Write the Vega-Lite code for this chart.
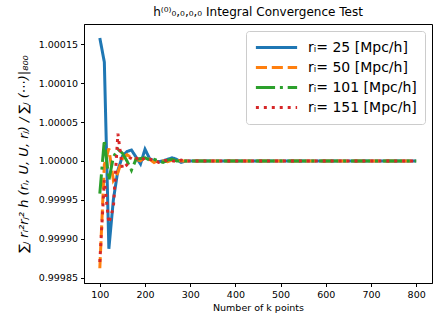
{
  "$schema": "https://vega.github.io/schema/vega-lite/v6.json",
  "width": 348,
  "height": 259,
  "autosize": "none",
  "padding": {"left": 84, "top": 24, "right": 7, "bottom": 38},
  "title": {"text": "h⁽⁰⁾₀,₀,₀,₀ Integral Convergence Test", "fontSize": 12, "fontWeight": "normal", "font": "DejaVu Sans", "color": "black", "offset": 5},
  "config": {
    "font": "DejaVu Sans",
    "view": {"stroke": "black", "strokeWidth": 1},
    "axis": {"domainColor": "black", "tickColor": "black", "labelColor": "black", "titleColor": "black", "grid": false, "tickSize": 3.5, "labelFontSize": 9.5, "titleFontWeight": "normal", "labelPadding": 3}
  },
  "datasets": {
    "d": [
      {"r": "r\u1d62= 25 [Mpc/h]", "k": 100, "v": 1.000158},
      {"r": "r\u1d62= 25 [Mpc/h]", "k": 110, "v": 1.000127},
      {"r": "r\u1d62= 25 [Mpc/h]", "k": 120, "v": 0.999887},
      {"r": "r\u1d62= 25 [Mpc/h]", "k": 130, "v": 0.99995},
      {"r": "r\u1d62= 25 [Mpc/h]", "k": 140, "v": 0.999988},
      {"r": "r\u1d62= 25 [Mpc/h]", "k": 150, "v": 1.000006},
      {"r": "r\u1d62= 25 [Mpc/h]", "k": 160, "v": 1.000012},
      {"r": "r\u1d62= 25 [Mpc/h]", "k": 170, "v": 1.000014},
      {"r": "r\u1d62= 25 [Mpc/h]", "k": 180, "v": 1.000005},
      {"r": "r\u1d62= 25 [Mpc/h]", "k": 190, "v": 0.999996},
      {"r": "r\u1d62= 25 [Mpc/h]", "k": 200, "v": 1.000015},
      {"r": "r\u1d62= 25 [Mpc/h]", "k": 210, "v": 1.000003},
      {"r": "r\u1d62= 25 [Mpc/h]", "k": 220, "v": 1.0},
      {"r": "r\u1d62= 25 [Mpc/h]", "k": 230, "v": 0.999999},
      {"r": "r\u1d62= 25 [Mpc/h]", "k": 240, "v": 1.0},
      {"r": "r\u1d62= 25 [Mpc/h]", "k": 250, "v": 1.000002},
      {"r": "r\u1d62= 25 [Mpc/h]", "k": 260, "v": 1.000004},
      {"r": "r\u1d62= 25 [Mpc/h]", "k": 270, "v": 1.000002},
      {"r": "r\u1d62= 25 [Mpc/h]", "k": 280, "v": 0.999998},
      {"r": "r\u1d62= 25 [Mpc/h]", "k": 290, "v": 1.0},
      {"r": "r\u1d62= 25 [Mpc/h]", "k": 300, "v": 1.0},
      {"r": "r\u1d62= 25 [Mpc/h]", "k": 350, "v": 1.0},
      {"r": "r\u1d62= 25 [Mpc/h]", "k": 400, "v": 1.0},
      {"r": "r\u1d62= 25 [Mpc/h]", "k": 450, "v": 1.0},
      {"r": "r\u1d62= 25 [Mpc/h]", "k": 500, "v": 1.0},
      {"r": "r\u1d62= 25 [Mpc/h]", "k": 550, "v": 1.0},
      {"r": "r\u1d62= 25 [Mpc/h]", "k": 600, "v": 1.0},
      {"r": "r\u1d62= 25 [Mpc/h]", "k": 650, "v": 1.0},
      {"r": "r\u1d62= 25 [Mpc/h]", "k": 700, "v": 1.0},
      {"r": "r\u1d62= 25 [Mpc/h]", "k": 750, "v": 1.0},
      {"r": "r\u1d62= 25 [Mpc/h]", "k": 800, "v": 1.0},

      {"r": "r\u1d62= 50 [Mpc/h]", "k": 100, "v": 0.999862},
      {"r": "r\u1d62= 50 [Mpc/h]", "k": 110, "v": 0.999995},
      {"r": "r\u1d62= 50 [Mpc/h]", "k": 120, "v": 1.000016},
      {"r": "r\u1d62= 50 [Mpc/h]", "k": 130, "v": 0.999975},
      {"r": "r\u1d62= 50 [Mpc/h]", "k": 140, "v": 0.999985},
      {"r": "r\u1d62= 50 [Mpc/h]", "k": 150, "v": 1.000003},
      {"r": "r\u1d62= 50 [Mpc/h]", "k": 160, "v": 1.000008},
      {"r": "r\u1d62= 50 [Mpc/h]", "k": 170, "v": 1.000004},
      {"r": "r\u1d62= 50 [Mpc/h]", "k": 180, "v": 1.000002},
      {"r": "r\u1d62= 50 [Mpc/h]", "k": 190, "v": 1.0},
      {"r": "r\u1d62= 50 [Mpc/h]", "k": 200, "v": 1.000005},
      {"r": "r\u1d62= 50 [Mpc/h]", "k": 210, "v": 1.000002},
      {"r": "r\u1d62= 50 [Mpc/h]", "k": 220, "v": 0.999998},
      {"r": "r\u1d62= 50 [Mpc/h]", "k": 230, "v": 1.000001},
      {"r": "r\u1d62= 50 [Mpc/h]", "k": 240, "v": 1.0},
      {"r": "r\u1d62= 50 [Mpc/h]", "k": 250, "v": 0.999999},
      {"r": "r\u1d62= 50 [Mpc/h]", "k": 260, "v": 1.000001},
      {"r": "r\u1d62= 50 [Mpc/h]", "k": 270, "v": 1.000001},
      {"r": "r\u1d62= 50 [Mpc/h]", "k": 280, "v": 1.0},
      {"r": "r\u1d62= 50 [Mpc/h]", "k": 290, "v": 1.0},
      {"r": "r\u1d62= 50 [Mpc/h]", "k": 300, "v": 1.0},
      {"r": "r\u1d62= 50 [Mpc/h]", "k": 350, "v": 1.0},
      {"r": "r\u1d62= 50 [Mpc/h]", "k": 400, "v": 1.0},
      {"r": "r\u1d62= 50 [Mpc/h]", "k": 450, "v": 1.0},
      {"r": "r\u1d62= 50 [Mpc/h]", "k": 500, "v": 1.0},
      {"r": "r\u1d62= 50 [Mpc/h]", "k": 550, "v": 1.0},
      {"r": "r\u1d62= 50 [Mpc/h]", "k": 600, "v": 1.0},
      {"r": "r\u1d62= 50 [Mpc/h]", "k": 650, "v": 1.0},
      {"r": "r\u1d62= 50 [Mpc/h]", "k": 700, "v": 1.0},
      {"r": "r\u1d62= 50 [Mpc/h]", "k": 750, "v": 1.0},
      {"r": "r\u1d62= 50 [Mpc/h]", "k": 800, "v": 1.0},

      {"r": "r\u1d62= 101 [Mpc/h]", "k": 100, "v": 0.999958},
      {"r": "r\u1d62= 101 [Mpc/h]", "k": 110, "v": 1.000027},
      {"r": "r\u1d62= 101 [Mpc/h]", "k": 120, "v": 0.999975},
      {"r": "r\u1d62= 101 [Mpc/h]", "k": 130, "v": 1.000005},
      {"r": "r\u1d62= 101 [Mpc/h]", "k": 140, "v": 1.000015},
      {"r": "r\u1d62= 101 [Mpc/h]", "k": 150, "v": 1.00001},
      {"r": "r\u1d62= 101 [Mpc/h]", "k": 160, "v": 1.0},
      {"r": "r\u1d62= 101 [Mpc/h]", "k": 170, "v": 0.999988},
      {"r": "r\u1d62= 101 [Mpc/h]", "k": 180, "v": 1.000002},
      {"r": "r\u1d62= 101 [Mpc/h]", "k": 190, "v": 1.000003},
      {"r": "r\u1d62= 101 [Mpc/h]", "k": 200, "v": 1.000004},
      {"r": "r\u1d62= 101 [Mpc/h]", "k": 210, "v": 1.000001},
      {"r": "r\u1d62= 101 [Mpc/h]", "k": 220, "v": 1.000002},
      {"r": "r\u1d62= 101 [Mpc/h]", "k": 230, "v": 1.0},
      {"r": "r\u1d62= 101 [Mpc/h]", "k": 240, "v": 0.999998},
      {"r": "r\u1d62= 101 [Mpc/h]", "k": 250, "v": 1.000001},
      {"r": "r\u1d62= 101 [Mpc/h]", "k": 260, "v": 1.000002},
      {"r": "r\u1d62= 101 [Mpc/h]", "k": 270, "v": 1.0},
      {"r": "r\u1d62= 101 [Mpc/h]", "k": 280, "v": 1.0},
      {"r": "r\u1d62= 101 [Mpc/h]", "k": 290, "v": 1.0},
      {"r": "r\u1d62= 101 [Mpc/h]", "k": 300, "v": 1.0},
      {"r": "r\u1d62= 101 [Mpc/h]", "k": 350, "v": 1.0},
      {"r": "r\u1d62= 101 [Mpc/h]", "k": 400, "v": 1.0},
      {"r": "r\u1d62= 101 [Mpc/h]", "k": 450, "v": 1.0},
      {"r": "r\u1d62= 101 [Mpc/h]", "k": 500, "v": 1.0},
      {"r": "r\u1d62= 101 [Mpc/h]", "k": 550, "v": 1.0},
      {"r": "r\u1d62= 101 [Mpc/h]", "k": 600, "v": 1.0},
      {"r": "r\u1d62= 101 [Mpc/h]", "k": 650, "v": 1.0},
      {"r": "r\u1d62= 101 [Mpc/h]", "k": 700, "v": 1.0},
      {"r": "r\u1d62= 101 [Mpc/h]", "k": 750, "v": 1.0},
      {"r": "r\u1d62= 101 [Mpc/h]", "k": 800, "v": 1.0},

      {"r": "r\u1d62= 151 [Mpc/h]", "k": 100, "v": 0.99987},
      {"r": "r\u1d62= 151 [Mpc/h]", "k": 110, "v": 0.999975},
      {"r": "r\u1d62= 151 [Mpc/h]", "k": 120, "v": 0.99992},
      {"r": "r\u1d62= 151 [Mpc/h]", "k": 130, "v": 0.99994},
      {"r": "r\u1d62= 151 [Mpc/h]", "k": 140, "v": 1.000035},
      {"r": "r\u1d62= 151 [Mpc/h]", "k": 150, "v": 0.99999},
      {"r": "r\u1d62= 151 [Mpc/h]", "k": 160, "v": 0.999995},
      {"r": "r\u1d62= 151 [Mpc/h]", "k": 170, "v": 1.000006},
      {"r": "r\u1d62= 151 [Mpc/h]", "k": 180, "v": 1.000004},
      {"r": "r\u1d62= 151 [Mpc/h]", "k": 190, "v": 1.0},
      {"r": "r\u1d62= 151 [Mpc/h]", "k": 200, "v": 1.000004},
      {"r": "r\u1d62= 151 [Mpc/h]", "k": 210, "v": 1.000002},
      {"r": "r\u1d62= 151 [Mpc/h]", "k": 220, "v": 1.000001},
      {"r": "r\u1d62= 151 [Mpc/h]", "k": 230, "v": 0.999998},
      {"r": "r\u1d62= 151 [Mpc/h]", "k": 240, "v": 1.0},
      {"r": "r\u1d62= 151 [Mpc/h]", "k": 250, "v": 1.000001},
      {"r": "r\u1d62= 151 [Mpc/h]", "k": 260, "v": 1.0},
      {"r": "r\u1d62= 151 [Mpc/h]", "k": 270, "v": 0.999999},
      {"r": "r\u1d62= 151 [Mpc/h]", "k": 280, "v": 1.000001},
      {"r": "r\u1d62= 151 [Mpc/h]", "k": 290, "v": 1.0},
      {"r": "r\u1d62= 151 [Mpc/h]", "k": 300, "v": 1.0},
      {"r": "r\u1d62= 151 [Mpc/h]", "k": 350, "v": 1.0},
      {"r": "r\u1d62= 151 [Mpc/h]", "k": 400, "v": 1.0},
      {"r": "r\u1d62= 151 [Mpc/h]", "k": 450, "v": 1.0},
      {"r": "r\u1d62= 151 [Mpc/h]", "k": 500, "v": 1.0},
      {"r": "r\u1d62= 151 [Mpc/h]", "k": 550, "v": 1.0},
      {"r": "r\u1d62= 151 [Mpc/h]", "k": 600, "v": 1.0},
      {"r": "r\u1d62= 151 [Mpc/h]", "k": 650, "v": 1.0},
      {"r": "r\u1d62= 151 [Mpc/h]", "k": 700, "v": 1.0},
      {"r": "r\u1d62= 151 [Mpc/h]", "k": 750, "v": 1.0},
      {"r": "r\u1d62= 151 [Mpc/h]", "k": 800, "v": 1.0}
    ]
  },
  "data": {"name": "d"},
  "mark": {"type": "line", "strokeWidth": 3, "clip": true},
  "encoding": {
    "x": {
      "field": "k", "type": "quantitative",
      "scale": {"domain": [65, 835], "nice": false, "zero": false},
      "axis": {"values": [100, 200, 300, 400, 500, 600, 700, 800], "title": "Number of k points", "titleFontSize": 9.5, "titlePadding": 3}
    },
    "y": {
      "field": "v", "type": "quantitative",
      "scale": {"domain": [0.999843, 1.000176], "nice": false, "zero": false},
      "axis": {"values": [0.99985, 0.9999, 0.99995, 1.0, 1.00005, 1.0001, 1.00015], "format": ".5f", "title": "∑ⱼ rᵢ²rⱼ² h (rᵢ, U, U, rⱼ) / ∑ⱼ (⋯)|₈₀₀", "titleFontSize": 13, "titleFontStyle": "italic", "titlePadding": 8}
    },
    "color": {
      "field": "r", "type": "nominal",
      "scale": {"domain": ["r\u1d62= 25 [Mpc/h]", "r\u1d62= 50 [Mpc/h]", "r\u1d62= 101 [Mpc/h]", "r\u1d62= 151 [Mpc/h]"], "range": ["#1f77b4", "#ff7f0e", "#2ca02c", "#d62728"]},
      "legend": {"title": null, "orient": "top-right", "offset": 7, "fillColor": "white", "strokeColor": "#cccccc", "cornerRadius": 3, "padding": 8, "labelFontSize": 14, "labelColor": "black", "symbolType": "stroke", "symbolSize": 1700, "symbolStrokeWidth": 3, "clipHeight": 17, "rowPadding": 3, "labelOffset": 9, "labelLimit": 300}
    },
    "strokeDash": {
      "field": "r", "type": "nominal",
      "scale": {"domain": ["r\u1d62= 25 [Mpc/h]", "r\u1d62= 50 [Mpc/h]", "r\u1d62= 101 [Mpc/h]", "r\u1d62= 151 [Mpc/h]"], "range": [[1, 0], [11.1, 4.8], [19.2, 4.8, 3, 4.8], [3, 4.95]]},
      "legend": {"title": null}
    }
  }
}
